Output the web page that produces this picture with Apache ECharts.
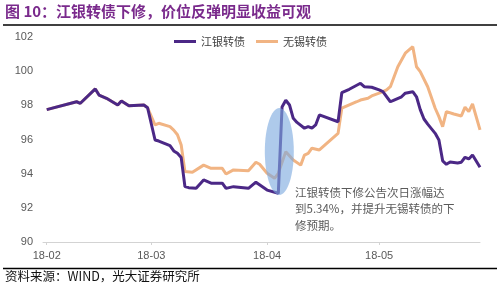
<!DOCTYPE html>
<html>
<head>
<meta charset="utf-8">
<script src="https://cdn.jsdelivr.net/npm/echarts@6/dist/echarts.min.js"></script>
<style>
html,body{margin:0;padding:0;background:#fff;}
#c{width:500px;height:292px;}
</style>
</head>
<body>
<div id="c"></div>
<script>
// ---- data ----
const axisStart = '2018-01-31';
const axisEnd = '2018-05-28';
const yTicks = [90, 92, 94, 96, 98, 100, 102];

const jyDates = ['02-01','02-09','02-10','02-14','02-15','02-17','02-20','02-21','02-23','02-27','02-28',
  '03-02','03-03','03-06','03-07','03-08','03-09','03-10','03-11','03-13','03-15','03-17','03-20','03-21','03-23','03-27','03-29',
  '04-01','04-04','04-05','04-06','04-07','04-08','04-09','04-11','04-12','04-13','04-14','04-15','04-20','04-21','04-23','04-24','04-26','04-27','04-29',
  '05-01','05-02','05-04','05-05','05-07','05-08','05-10','05-11','05-12','05-13','05-14','05-16','05-17','05-18','05-19','05-20','05-22','05-23','05-24','05-25','05-26','05-28'];
const jyValues = [97.75,98.21,98.12,98.96,98.60,98.41,98.02,98.26,97.98,98.02,97.86,
  95.97,95.91,95.64,95.33,95.19,94.94,93.24,93.18,93.14,93.63,93.44,93.44,93.14,93.24,93.14,93.50,
  93.04,92.85,97.90,98.30,98.02,97.24,97.00,96.66,96.75,96.66,96.85,97.44,97.04,98.74,98.94,99.06,99.29,99.09,99.06,
  98.90,98.80,98.21,98.31,98.50,98.71,98.80,98.50,97.75,97.20,96.90,96.36,95.97,94.75,94.55,94.68,94.63,94.67,94.96,94.86,95.09,94.37];

const wxDates = ['02-01','02-09','02-10','02-14','02-15','02-17','02-20','02-21','02-23','02-27','02-28',
  '03-02','03-03','03-06','03-07','03-08','03-09','03-10','03-12','03-15','03-17','03-20','03-21','03-23','03-27','03-29','03-30',
  '04-01','04-03','04-04','04-06','04-08','04-10','04-11','04-12','04-13','04-15','04-20','04-21','04-23','04-25','04-26','04-28','04-29',
  '05-01','05-02','05-03','05-04','05-06','05-08','05-10','05-11','05-12','05-14','05-16','05-17','05-18','05-19','05-21','05-23','05-24','05-25','05-26','05-28'];
const wxValues = [97.75,98.21,98.12,98.96,98.60,98.41,98.02,98.26,97.98,98.02,97.86,
  96.85,96.95,96.75,96.55,96.28,95.68,94.12,94.08,94.50,94.31,94.31,93.98,94.22,94.17,94.67,94.55,
  94.02,93.73,94.02,95.29,94.80,94.50,95.09,95.19,95.49,95.39,96.36,97.83,98.02,98.21,98.31,98.41,98.55,
  98.71,98.80,98.90,99.09,100.26,101.05,101.43,100.26,99.97,99.09,97.83,97.34,96.75,97.63,97.49,97.38,97.89,97.63,98.08,96.56];

const seriesNames = ['江银转债', '无锡转债'];
const titleText = '图 10：江银转债下修，价位反弹明显收益可观';
const noteText = '江银转债下修公告次日涨幅达\n到5.34%，并提升无锡转债的下\n修预期。';
const sourceText = '资料来源：WIND，光大证券研究所';

// ---- build calendar-day categories ----
function fmt(d){
  const m = String(d.getUTCMonth()+1).padStart(2,'0');
  const dd = String(d.getUTCDate()).padStart(2,'0');
  return d.getUTCFullYear()+'-'+m+'-'+dd;
}
const categories = [];
for (let t = Date.parse(axisStart+'T00:00:00Z'); t <= Date.parse(axisEnd+'T00:00:00Z'); t += 86400000) {
  categories.push(fmt(new Date(t)));
}
function fill(dates, vals){
  const map = {};
  dates.forEach((d,i)=>{ map['2018-'+d] = vals[i]; });
  return categories.map(c => (c in map) ? map[c] : null);
}
const jyData = fill(jyDates, jyValues);
const wxData = fill(wxDates, wxValues);

const PURPLE = '#4b2886';
const ORANGE = '#f1b483';
const LATIN = 'Liberation Sans, Arial, Noto Sans CJK SC';
const CJK = 'Noto Sans CJK SC';

const chart = echarts.init(document.getElementById('c'), null, {renderer:'canvas'});
const isMonthStart = (idx, val) => val.slice(8) === '01';

chart.setOption({
  animation: false,
  backgroundColor: '#ffffff',
  grid: {left: 43, right: 20, top: 37, bottom: 50, containLabel: false},
  legend: {
    data: seriesNames,
    left: 174, top: 36, padding: 0,
    icon: 'rect', itemWidth: 22, itemHeight: 3, itemGap: 11,
    textStyle: {fontSize: 11, color: '#404040', fontFamily: CJK}
  },
  xAxis: {
    type: 'category',
    data: categories,
    boundaryGap: false,
    axisLine: {lineStyle: {color: '#d3d3d3', width: 1}},
    axisTick: {show: true, interval: isMonthStart, length: 3, lineStyle: {color: '#d3d3d3'}},
    axisLabel: {interval: isMonthStart, color: '#595959', fontSize: 11, fontFamily: LATIN, margin: 8,
      formatter: v => v.slice(2,7)},
    splitLine: {show: false}
  },
  yAxis: {
    type: 'value', min: yTicks[0], max: yTicks[yTicks.length-1], interval: 2,
    axisLine: {show: false}, axisTick: {show: false}, splitLine: {show: false},
    axisLabel: {color: '#595959', fontSize: 11, fontFamily: LATIN, margin: 10}
  },
  series: [
    {name: seriesNames[1], type: 'line', data: wxData, connectNulls: true, showSymbol: false, symbol: 'none',
      lineStyle: {color: ORANGE, width: 3}, itemStyle: {color: ORANGE}, z: 2},
    {name: seriesNames[0], type: 'line', data: jyData, connectNulls: true, showSymbol: false, symbol: 'none',
      lineStyle: {color: PURPLE, width: 3}, itemStyle: {color: PURPLE}, z: 3}
  ]
});

// annotation ellipse anchored to data coordinates
const c = chart.convertToPixel({gridIndex: 0}, ['2018-04-04', 95.3]);
chart.setOption({
  graphic: [
    {type: 'text', left: 5, top: 4, style: {text: titleText, fill: '#7a2a8c', font: 'bold 15px ' + CJK}},
    {type: 'line', shape: {x1: 3, y1: 25, x2: 497, y2: 25}, style: {stroke: '#000', lineWidth: 1.5}},
    {type: 'line', shape: {x1: 3, y1: 268.5, x2: 497, y2: 268.5}, style: {stroke: '#000', lineWidth: 1.5}},
    {type: 'text', left: 5, top: 270, style: {text: sourceText, fill: '#111', font: '12.5px ' + CJK}},
    {type: 'ellipse', shape: {cx: c[0] + 1, cy: c[1], rx: 14.5, ry: 43.5}, z: 100,
      style: {fill: 'rgba(125,170,222,0.62)', stroke: null}},
    {type: 'text', left: 295, top: 184, z: 100,
      style: {text: noteText, fill: '#5a5a5a', font: '11.5px ' + CJK, lineHeight: 16.5}}
  ]
});
</script>
</body>
</html>
